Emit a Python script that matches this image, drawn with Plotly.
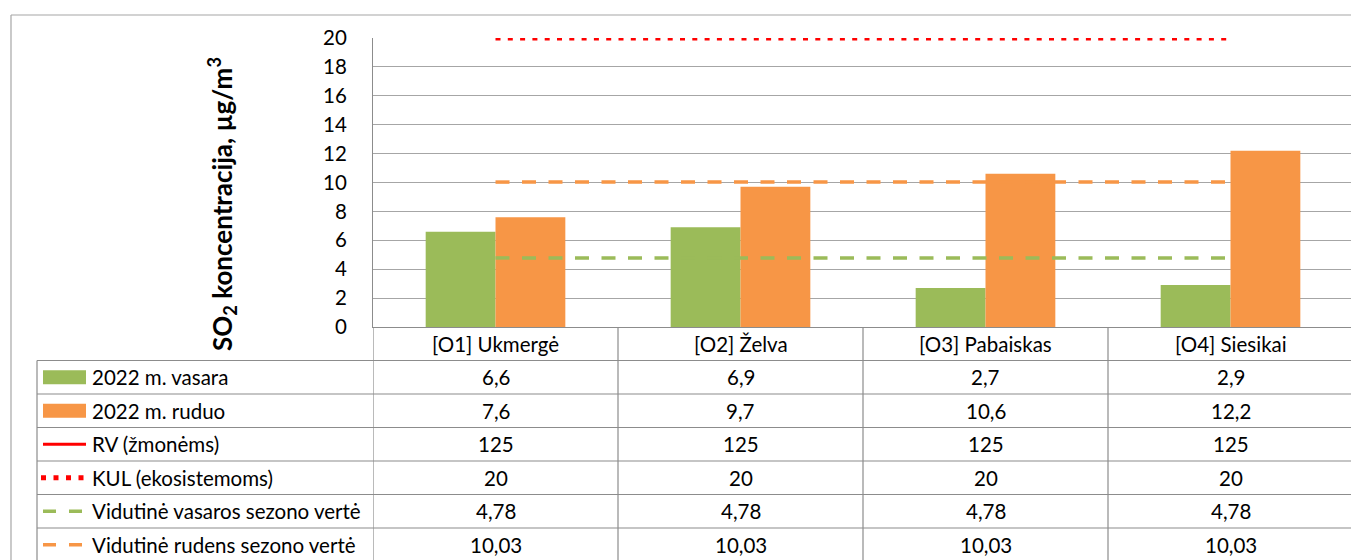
import plotly.graph_objects as go

# ---------------- data ----------------
categories = ["[O1] Ukmergė", "[O2] Želva", "[O3] Pabaiskas", "[O4] Siesikai"]
series_names = [
    "2022 m. vasara",
    "2022 m. ruduo",
    "RV (žmonėms)",
    "KUL (ekosistemoms)",
    "Vidutinė vasaros sezono vertė",
    "Vidutinė rudens sezono vertė",
]
summer_2022 = [6.6, 6.9, 2.7, 2.9]
autumn_2022 = [7.6, 9.7, 10.6, 12.2]
rv_people = [125, 125, 125, 125]
kul_ecosystems = [20, 20, 20, 20]
avg_summer = [4.78, 4.78, 4.78, 4.78]
avg_autumn = [10.03, 10.03, 10.03, 10.03]
y_ticks = [0, 2, 4, 6, 8, 10, 12, 14, 16, 18, 20]
y_title = "SO<sub>2</sub> koncentracija, µg/m<sup>3</sup>"

all_series = [summer_2022, autumn_2022, rv_people, kul_ecosystems, avg_summer, avg_autumn]

# ---------------- styling ----------------
OFF = 8  # page body margin in the browser
W, H = 1359 - OFF, 560 - OFF
L, T = 373 - OFF, 38 - OFF
B = H - (327 - OFF)
R = W - (1353 - OFF)
PW, PH = W - L - R, H - T - B
FONT = "Lato"
FS = 20.5
GREEN = "#9BBB59"
ORANGE = "#F79646"
RED = "#FF0000"
GRID = "#A6A6A6"
BORDER = "#8C8C8C"
TXT = "#000000"


def px(xp):
    """page pixel x -> paper x"""
    return (xp - OFF - L) / PW


def py(yp):
    """page pixel y -> paper y"""
    return (H - B - (yp - OFF)) / PH


def fmt(v):
    return f"{v:g}".replace(".", ",")


fig = go.Figure()
fig.add_trace(go.Bar(x=categories, y=summer_2022, name=series_names[0],
                     marker=dict(color=GREEN, line=dict(width=0))))
fig.add_trace(go.Bar(x=categories, y=autumn_2022, name=series_names[1],
                     marker=dict(color=ORANGE, line=dict(width=0))))
fig.add_trace(go.Scatter(x=categories, y=rv_people, mode="lines", name=series_names[2],
                         line=dict(color=RED, width=3)))
fig.add_trace(go.Scatter(x=categories, y=kul_ecosystems, mode="lines", name=series_names[3],
                         line=dict(color=RED, width=5, dash="5px,7.3px"), cliponaxis=False))
fig.add_trace(go.Scatter(x=categories, y=avg_summer, mode="lines", name=series_names[4],
                         line=dict(color=GREEN, width=3.5, dash="14px,12.5px")))
fig.add_trace(go.Scatter(x=categories, y=avg_autumn, mode="lines", name=series_names[5],
                         line=dict(color=ORANGE, width=3.5, dash="14px,12.5px")))

shapes = []
annotations = []

# outer chart border
shapes.append(dict(type="line", xref="paper", yref="paper", x0=px(11), x1=px(1365),
                   y0=py(15), y1=py(15), line=dict(color=GRID, width=1.2)))
shapes.append(dict(type="line", xref="paper", yref="paper", x0=px(11), x1=px(11),
                   y0=py(15), y1=py(570), line=dict(color=GRID, width=1.2)))

# data table grid
row_top = 360.5
row_h = 33.5
n_rows = len(series_names)
table_bottom = row_top + row_h * n_rows
for i in range(n_rows + 1):
    yy = row_top + row_h * i
    shapes.append(dict(type="line", xref="paper", yref="paper", x0=px(37), x1=px(1353),
                       y0=py(yy), y1=py(yy), line=dict(color=BORDER, width=1.2)))
shapes.append(dict(type="line", xref="paper", yref="paper", x0=px(37), x1=px(37),
                   y0=py(row_top), y1=py(table_bottom), line=dict(color=BORDER, width=1.2)))
for k in range(len(categories) + 1):
    shapes.append(dict(type="line", xref="x", yref="paper", x0=k - 0.5, x1=k - 0.5,
                       y0=0, y1=py(table_bottom), line=dict(color=BORDER, width=1.2)))

# header row: category names
for c in categories:
    annotations.append(dict(x=c, xref="x", y=py(344), yref="paper", text=c, showarrow=False,
                            xanchor="center", yanchor="middle",
                            font=dict(family=FONT, size=FS, color=TXT)))


def yc_of(i):
    return row_top + row_h * (i + 0.5)


# value rows
for i, (name, vals) in enumerate(zip(series_names, all_series)):
    yc = yc_of(i)
    annotations.append(dict(x=px(90), xref="paper", y=py(yc), yref="paper", text=name,
                            showarrow=False, xanchor="left", yanchor="middle",
                            font=dict(family=FONT, size=FS, color=TXT)))
    for c, v in zip(categories, vals):
        annotations.append(dict(x=c, xref="x", y=py(yc), yref="paper", text=fmt(v),
                                showarrow=False, xanchor="center", yanchor="middle",
                                font=dict(family=FONT, size=FS, color=TXT)))

# legend keys
for i, col in [(0, GREEN), (1, ORANGE)]:
    shapes.append(dict(type="rect", xref="paper", yref="paper", x0=px(43), x1=px(86),
                       y0=py(yc_of(i) - 7), y1=py(yc_of(i) + 7), fillcolor=col, line=dict(width=0)))
shapes.append(dict(type="line", xref="paper", yref="paper", x0=px(43), x1=px(86),
                   y0=py(yc_of(2)), y1=py(yc_of(2)), line=dict(color=RED, width=3)))
shapes.append(dict(type="line", xref="paper", yref="paper", x0=px(41), x1=px(86),
                   y0=py(yc_of(3)), y1=py(yc_of(3)), line=dict(color=RED, width=5, dash="5px,7.5px")))
for i, col in [(4, GREEN), (5, ORANGE)]:
    shapes.append(dict(type="line", xref="paper", yref="paper", x0=px(43), x1=px(83),
                       y0=py(yc_of(i)), y1=py(yc_of(i)), line=dict(color=col, width=3.5, dash="13px,13px")))

# y-axis title
annotations.append(dict(x=px(222), xref="paper", y=py(204), yref="paper", text=y_title,
                        textangle=-90, showarrow=False, xanchor="center", yanchor="middle",
                        font=dict(family=FONT, size=26, color=TXT, weight="bold")))

fig.update_layout(
    width=W, height=H,
    margin=dict(l=L, r=R, t=T, b=B, autoexpand=False),
    paper_bgcolor="white", plot_bgcolor="white",
    barmode="group", bargap=0.43, bargroupgap=0,
    showlegend=False,
    shapes=shapes, annotations=annotations,
    xaxis=dict(type="category", range=[-0.5, 3.5], showticklabels=False, ticks="",
               showgrid=False, showline=True, linecolor=BORDER, linewidth=1.2, zeroline=False,
               automargin=False, fixedrange=True),
    yaxis=dict(range=[0, 20], tickvals=y_ticks, ticktext=[str(t) for t in y_ticks],
               showgrid=True, gridcolor=GRID, gridwidth=1.2, showline=True, linecolor=BORDER,
               linewidth=1.2, zeroline=False, ticks="", ticklabelstandoff=21,
               tickfont=dict(family=FONT, size=FS, color=TXT), automargin=False, fixedrange=True),
)

fig.write_html("out.html")
